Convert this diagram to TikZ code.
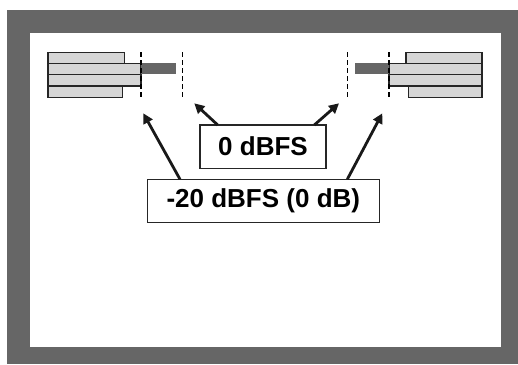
\documentclass[tikz,border=0pt]{standalone}
\usepackage{fontspec}
\setmainfont{Liberation Sans}
\usetikzlibrary{arrows.meta}
\definecolor{framegray}{RGB}{102,102,102}
\definecolor{barlight}{RGB}{214,214,214}
\definecolor{bardark}{RGB}{102,102,102}
\tikzset{
  barbox/.style={draw=black!85, line width=1.1pt, fill=barlight},
  darkbar/.style={fill=bardark},
  levelline/.style={draw=black, line width=1.2pt, dash pattern=on 5pt off 3pt},
  labelbox/.style={draw=black!85, line width=1.2pt, fill=white, inner sep=0pt, font=\fontsize{26}{30}\selectfont\bfseries},
  pointer/.style={draw=black!90, line width=2.8pt, -{Triangle[length=10pt,width=10pt]}}
}
\begin{document}
\begin{tikzpicture}[x=1pt,y=-1pt]
\useasboundingbox (0,0) rectangle (518,364);
% frame
\fill[framegray] (7,10) rectangle (518,364);
\fill[white] (30,33) rectangle (500.5,346.5);
% left bars
\path[barbox] (48,52.3) rectangle (124.3,63.3);
\path[barbox] (48,63.3) rectangle (141,74.3);
\path[barbox] (48,74.3) rectangle (141,86);
\path[barbox] (48,86) rectangle (122.3,97.7);
\path[darkbar] (141,63.3) rectangle (176,74.3);
% right bars
\path[barbox] (406,52.3) rectangle (482,63.3);
\path[barbox] (389,63.3) rectangle (482,74.3);
\path[barbox] (389,74.3) rectangle (482,86);
\path[barbox] (408.7,86) rectangle (482,97.7);
\path[darkbar] (355,63.3) rectangle (389,74.3);
% dashed level lines
\draw[levelline] (141,52) -- (141,98);
\draw[levelline] (182.7,52) -- (182.7,98);
\draw[levelline] (347.3,52) -- (347.3,98);
\draw[levelline] (389,52) -- (389,98);
% target coordinates
\coordinate (t1) at (194.3,103.3);
\coordinate (t2) at (339,103.3);
\coordinate (t3) at (143.3,113.3);
\coordinate (t4) at (382.3,113.3);
% label boxes
\node[labelbox, minimum width=126pt, minimum height=43.3pt] (zero) at (263,146.7) {0 dBFS};
\node[labelbox, minimum width=232pt, minimum height=43.4pt] (minus) at (263.3,201) {-20 dBFS (0 dB)};
% pointers
\coordinate (s1) at (217.7,125);
\coordinate (s2) at (314.3,125);
\coordinate (s3) at (180,179.3);
\coordinate (s4) at (347.3,179.3);
\draw[pointer] (s1) -- (t1);
\draw[pointer] (s2) -- (t2);
\draw[pointer] (s3) -- (t3);
\draw[pointer] (s4) -- (t4);
\end{tikzpicture}
\end{document}
